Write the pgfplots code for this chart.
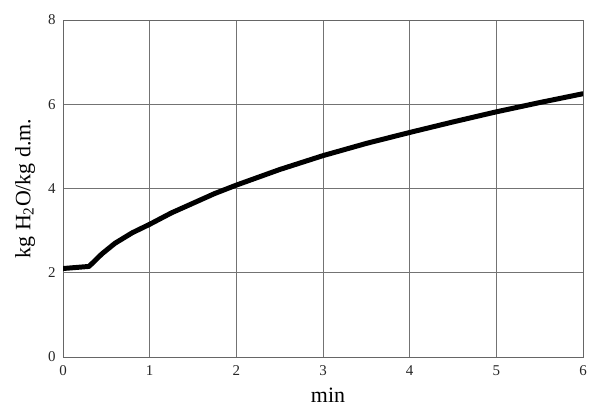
\documentclass[border=0pt]{standalone}
\usepackage{fontspec}
\setmainfont{Liberation Serif}
\usepackage{pgfplots}
\pgfplotsset{compat=1.18}
\begin{document}
\begin{tikzpicture}
\begin{axis}[
  name=ax,
  scale only axis,
  width=520bp, height=337bp,
  xmin=0, xmax=6, ymin=0, ymax=8,
  xtick={0,1,2,3,4,5,6},
  ytick={0,2,4,6,8},
  grid=major,
  major grid style={draw=black!55, line width=0.6pt},
  axis line style={draw=black!60, line width=0.7pt},
  tick style={draw=none},
  /pgf/number format/assume math mode=true,
  ticklabel style={font=\fontsize{15}{17}\selectfont, text=black!85},
  xticklabel style={yshift=-5bp},
  yticklabel style={xshift=-4bp},
  xlabel={min},
  ylabel={kg H\textsubscript{2}O/kg d.m.},
  label style={font=\fontsize{22}{24}\selectfont},
  xlabel style={yshift=-6bp, xshift=5bp},
  ylabel style={yshift=6bp},
]
\addplot[black, line width=5pt, line join=round, line cap=round] coordinates {
(0,2.1) (0.3,2.15) (0.45,2.45) (0.6,2.7) (0.8,2.95) (1,3.15) (1.25,3.42)
(1.5,3.65) (1.75,3.88) (2,4.08) (2.5,4.45) (3,4.78) (3.5,5.07) (4,5.33)
(4.5,5.58) (5,5.82) (5.5,6.04) (6,6.25)
};
\end{axis}
\pgfresetboundingbox
\path ([xshift=-63bp,yshift=-59bp]ax.south west) rectangle ([xshift=17bp,yshift=20bp]ax.north east);
\end{tikzpicture}
\end{document}
